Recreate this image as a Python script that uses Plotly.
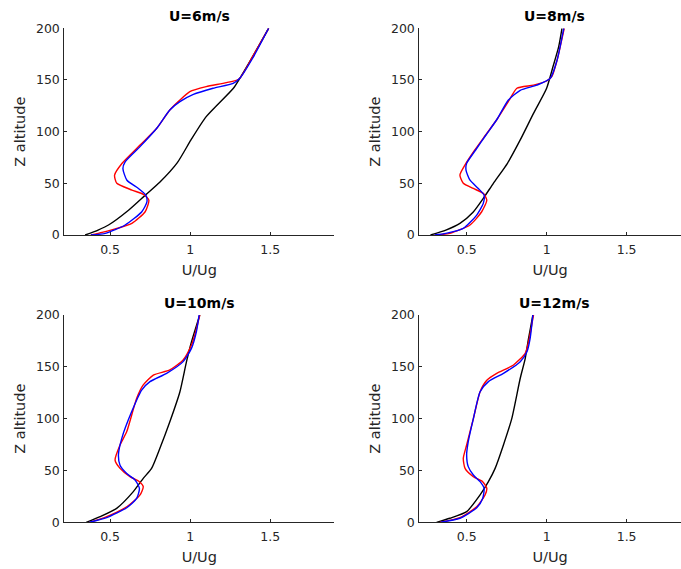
import plotly.graph_objects as go

# ---------------- data ----------------
titles = ["U=6m/s", "U=8m/s", "U=10m/s", "U=12m/s"]

# Panel U=6
z6_black = [0, 4.8, 9.7, 24, 38.6, 51, 70, 92, 114.5, 142, 151.6, 172.6, 200]
u6_black = [0.344, 0.425, 0.49, 0.615, 0.72, 0.81, 0.92, 1.005, 1.10, 1.27, 1.31, 1.39, 1.49]
z6_red = [0, 2.5, 5, 11.3, 22.5, 33.8, 39.3, 43.5, 50, 58, 69.4, 87, 103, 121, 130.6, 138.7, 143.5, 147.4, 151, 172.6, 200]
u6_red = [0.38, 0.45, 0.51, 0.636, 0.719, 0.742, 0.709, 0.636, 0.542, 0.528, 0.575, 0.687, 0.79, 0.873, 0.936, 0.998, 1.10, 1.226, 1.305, 1.39, 1.49]
z6_blue = [0, 1.6, 9.7, 22.5, 32, 38.6, 45, 53, 64.4, 70.8, 85.5, 103, 121, 129, 136, 142, 146.8, 151.6, 171, 200]
u6_blue = [0.38, 0.47, 0.594, 0.698, 0.73, 0.723, 0.677, 0.605, 0.58, 0.594, 0.687, 0.79, 0.873, 0.936, 1.02, 1.143, 1.268, 1.31, 1.39, 1.49]

# Panel U=8
z8_black = [0, 4.8, 11.3, 22, 35.4, 50, 69.4, 92, 117.7, 142, 163, 182, 200]
u8_black = [0.274, 0.37, 0.458, 0.54, 0.604, 0.667, 0.755, 0.835, 0.918, 1.00, 1.04, 1.075, 1.096]
z8_red = [0, 1.6, 9.7, 22.5, 33.8, 40.3, 45, 50, 58, 67.6, 82, 97, 112, 132, 142, 145, 149, 153.5, 169, 200]
u8_red = [0.30, 0.395, 0.521, 0.594, 0.626, 0.604, 0.542, 0.479, 0.458, 0.489, 0.55, 0.62, 0.69, 0.772, 0.814, 0.918, 1.00, 1.033, 1.065, 1.11]
z8_blue = [0, 1.6, 6.4, 19.3, 30.6, 38.6, 45, 53, 62.8, 69.3, 82, 97, 112, 130.6, 140, 145, 151.6, 169, 200]
u8_blue = [0.30, 0.37, 0.479, 0.563, 0.604, 0.609, 0.573, 0.521, 0.496, 0.50, 0.555, 0.622, 0.69, 0.761, 0.835, 0.939, 1.023, 1.065, 1.107]

# Panel U=10
z10_black = [0, 5.5, 13.5, 29.6, 42.4, 52, 71.4, 97, 126, 155, 174, 200]
u10_black = [0.351, 0.438, 0.541, 0.645, 0.707, 0.759, 0.811, 0.873, 0.936, 0.977, 1.008, 1.06]
z10_red = [0, 5.5, 15, 26.4, 34.4, 39.2, 44, 52, 60, 74.6, 87.5, 119.6, 132.5, 142, 147, 156.6, 171, 180.7, 200]
u10_red = [0.371, 0.479, 0.604, 0.687, 0.707, 0.683, 0.624, 0.562, 0.531, 0.562, 0.604, 0.666, 0.707, 0.77, 0.873, 0.956, 1.008, 1.029, 1.06]
z10_blue = [0, 4.5, 14, 23, 32.8, 40.8, 47, 55, 65, 81, 106.8, 127.6, 135.7, 143.7, 155, 167.8, 184, 200]
u10_blue = [0.371, 0.479, 0.604, 0.666, 0.683, 0.656, 0.604, 0.562, 0.552, 0.573, 0.635, 0.697, 0.749, 0.853, 0.956, 1.008, 1.039, 1.056]

# Panel U=12
z12_black = [0, 3.9, 10.3, 26.4, 39.2, 52, 74.6, 100, 139, 158, 177.5, 200]
u12_black = [0.312, 0.395, 0.50, 0.584, 0.636, 0.678, 0.73, 0.782, 0.835, 0.866, 0.887, 0.914]
z12_red = [0, 4.5, 15, 26.4, 32.8, 39.2, 44, 52, 61.7, 74.6, 100, 126, 137, 143.7, 151.8, 163, 174, 200]
u12_red = [0.333, 0.458, 0.563, 0.615, 0.626, 0.60, 0.542, 0.49, 0.479, 0.50, 0.542, 0.584, 0.626, 0.688, 0.793, 0.866, 0.887, 0.918]
z12_blue = [0, 3.9, 14, 23, 32.8, 39.2, 45.6, 53.7, 65, 77.8, 100, 126, 135.7, 143.7, 155, 164.6, 177.5, 200]
u12_blue = [0.337, 0.458, 0.563, 0.60, 0.609, 0.584, 0.542, 0.51, 0.50, 0.51, 0.542, 0.584, 0.636, 0.73, 0.835, 0.877, 0.897, 0.914]

x_tickvals = [0.5, 1, 1.5]
x_ticktext = ["0.5", "1", "1.5"]
y_tickvals = [0, 50, 100, 150, 200]
y_ticktext = ["0", "50", "100", "150", "200"]

panels = [
    (u6_black, z6_black, u6_red, z6_red, u6_blue, z6_blue),
    (u8_black, z8_black, u8_red, z8_red, u8_blue, z8_blue),
    (u10_black, z10_black, u10_red, z10_red, u10_blue, z10_blue),
    (u12_black, z12_black, u12_red, z12_red, u12_blue, z12_blue),
]

# ---------------- layout ----------------
W, H = 681, 569
def fx(p):
    return p / W
def fy(p):
    return 1 - p / H

# pixel boxes (left, right, top, bottom)
boxes = [(64.3, 334.3, 28.3, 235.0),
         (419.3, 681.0, 28.3, 235.0),
         (64.3, 334.3, 315.0, 522.3),
         (419.3, 681.0, 315.0, 522.3)]
x_ranges = [[0.214, 1.90], [0.204, 1.84], [0.214, 1.90], [0.204, 1.84]]

fig = go.Figure()
axis_color = "#262626"
font_fam = "DejaVu Sans"

for i, (ub, zb, ur, zr, ul, zl) in enumerate(panels):
    xa = "x" if i == 0 else f"x{i+1}"
    ya = "y" if i == 0 else f"y{i+1}"
    for xs, ys, col in [(ub, zb, "#000000"), (ur, zr, "#FF0000"), (ul, zl, "#0000FF")]:
        fig.add_trace(go.Scatter(x=xs, y=ys, mode="lines", xaxis=xa, yaxis=ya,
                                 line=dict(color=col, width=1.4, shape="spline", smoothing=0.6),
                                 showlegend=False, hoverinfo="skip"))
    l, r, t, b = boxes[i]
    xkey = "xaxis" if i == 0 else f"xaxis{i+1}"
    ykey = "yaxis" if i == 0 else f"yaxis{i+1}"
    fig.layout[xkey] = dict(
        domain=[fx(l), fx(r)], range=x_ranges[i], anchor=ya,
        showline=True, linecolor=axis_color, linewidth=1, mirror=False,
        showgrid=False, zeroline=False, ticks="inside", ticklen=3, tickcolor=axis_color,
        tickvals=x_tickvals, ticktext=x_ticktext, ticklabelstandoff=3,
        tickfont=dict(family=font_fam, size=12.5, color=axis_color),
        title=dict(text="U/Ug", font=dict(family=font_fam, size=14.5, color=axis_color), standoff=8),
        automargin=False,
    )
    fig.layout[ykey] = dict(
        domain=[fy(b), fy(t)], range=[0, 200], anchor=xa,
        showline=True, linecolor=axis_color, linewidth=1, mirror=False,
        showgrid=False, zeroline=False, ticks="inside", ticklen=3, tickcolor=axis_color,
        tickvals=y_tickvals, ticktext=y_ticktext, ticklabelstandoff=1,
        tickfont=dict(family=font_fam, size=12.5, color=axis_color),
        title=dict(text="Z altitude", font=dict(family=font_fam, size=14.5, color=axis_color), standoff=6),
        automargin=False,
    )
    fig.add_annotation(text="<b>" + titles[i] + "</b>", xref="paper", yref="paper",
                       x=fx(l + 135), y=fy(t - 12),
                       xanchor="center", yanchor="middle", showarrow=False,
                       font=dict(family=font_fam, size=14, color="#000000"))

fig.update_layout(width=W, height=H, margin=dict(l=0, r=0, t=0, b=0),
                  paper_bgcolor="white", plot_bgcolor="white")
fig.write_html("out.html", config={"displayModeBar": False},
               post_script="document.body.style.margin='0px';")
